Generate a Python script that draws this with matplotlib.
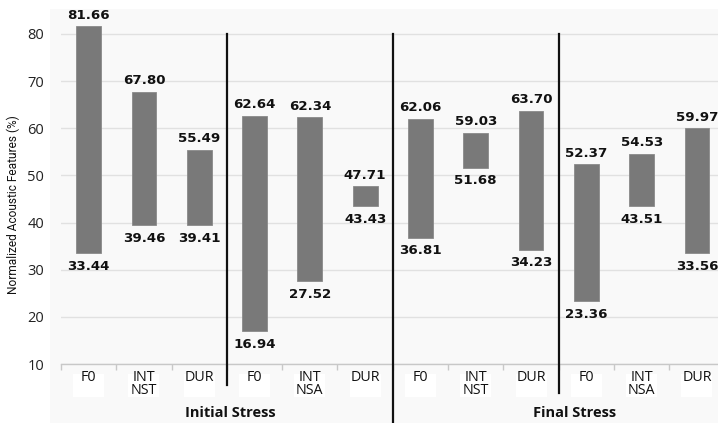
import matplotlib
matplotlib.use("Agg")
import matplotlib.pyplot as plt
from matplotlib.patches import Rectangle
import numpy as np

# Acoustic feature ranges (min / max, %) per feature and condition
features = ["F0", "INT", "DUR"] * 4
conditions = ["NST", "NSA", "NST", "NSA"]
stress_types = ["Initial Stress", "Final Stress"]
low_vals = [33.44, 39.46, 39.41, 16.94, 27.52, 43.43, 36.81, 51.68, 34.23, 23.36, 43.51, 33.56]
high_vals = [81.66, 67.80, 55.49, 62.64, 62.34, 47.71, 62.06, 59.03, 63.70, 52.37, 54.53, 59.97]
y_ticks = [10, 20, 30, 40, 50, 60, 70, 80]

W, H = 718, 423
fig = plt.figure(figsize=(W / 100, H / 100), dpi=100)
fig.patch.set_facecolor("white")

# light chart-area panel
fig.patches.append(Rectangle((50 / W, 0), 1 - 50 / W, (H - 9) / H,
                             transform=fig.transFigure, facecolor="#f9f9f9",
                             edgecolor="none", zorder=-5))

ax = fig.add_axes([61 / W, (H - 364) / H, 663.6 / W, 355 / H])
ax.set_facecolor("none")
ax.set_xlim(-0.5, 11.5)
ax.set_ylim(10, 85.3)

x = np.arange(len(features))
lows = np.array(low_vals)
highs = np.array(high_vals)
ax.bar(x, highs - lows, bottom=lows, width=0.45, color="#797979",
       edgecolor="#8a8a8a", linewidth=0.6, zorder=3)

# value labels
lab_font = dict(family="DejaVu Sans", fontweight="bold", fontsize=9.6, color="#111111")
for xi, lo, hi in zip(x, low_vals, high_vals):
    ax.annotate(f"{hi:.2f}", (xi, hi), xytext=(0, 8), textcoords="offset points",
                ha="center", va="center", zorder=5, **lab_font)
    ax.annotate(f"{lo:.2f}", (xi, lo), xytext=(0, -9.5), textcoords="offset points",
                ha="center", va="center", zorder=5, **lab_font)

# grid and axes styling
ax.set_yticks(y_ticks)
ax.yaxis.grid(True, color="#e1e1e1", linewidth=1.0, zorder=0)
ax.set_axisbelow(True)
for s in ["top", "right", "left"]:
    ax.spines[s].set_visible(False)
ax.spines["bottom"].set_color("#c8c8c8")
ax.spines["bottom"].set_linewidth(1.0)
ax.tick_params(axis="y", length=0, pad=12, labelsize=10.5, labelcolor="#222222")
for lbl in ax.get_yticklabels():
    lbl.set_family("Open Sans")

ax.set_xticks(np.arange(-0.5, 12, 1.0))
ax.set_xticklabels([])
ax.tick_params(axis="x", direction="out", length=4.5, width=1.0, color="#c8c8c8")

ax.set_ylabel("Normalized Acoustic Features (%)", family="Roboto",
              fontsize=8.6, color="#111111")
ax.yaxis.set_label_coords(-0.062, 0.45)

# white backing boxes under the feature labels
for xi in x:
    ax.add_patch(Rectangle((xi - 0.28, 3.0), 0.56, 4.9, facecolor="white",
                           edgecolor="none", clip_on=False, zorder=1))

# feature labels under each bar; the INT label carries the condition below it
cond_iter = iter(conditions)
for xi, name in zip(x, features):
    txt = f"{name}\n{next(cond_iter)}" if name == "INT" else name
    ax.text(xi, 8.7, txt, ha="center", va="top", family="Open Sans",
            fontsize=10.3, linespacing=0.85, color="#111111", clip_on=False, zorder=2)

# stress position labels
for xpos, name in zip([2.56, 8.79], stress_types):
    ax.text(xpos, -0.4, name, ha="center", va="center", family="Open Sans",
            fontweight="bold", fontsize=10.5, color="#111111", clip_on=False)

# group separators
for xpos, ybot in zip([2.5, 5.5, 8.5], [5.5, -2.6, 3.8]):
    ax.plot([xpos, xpos], [80, ybot], color="#111111", linewidth=1.6,
            clip_on=False, zorder=4)

fig.savefig("out.png", dpi=100)
